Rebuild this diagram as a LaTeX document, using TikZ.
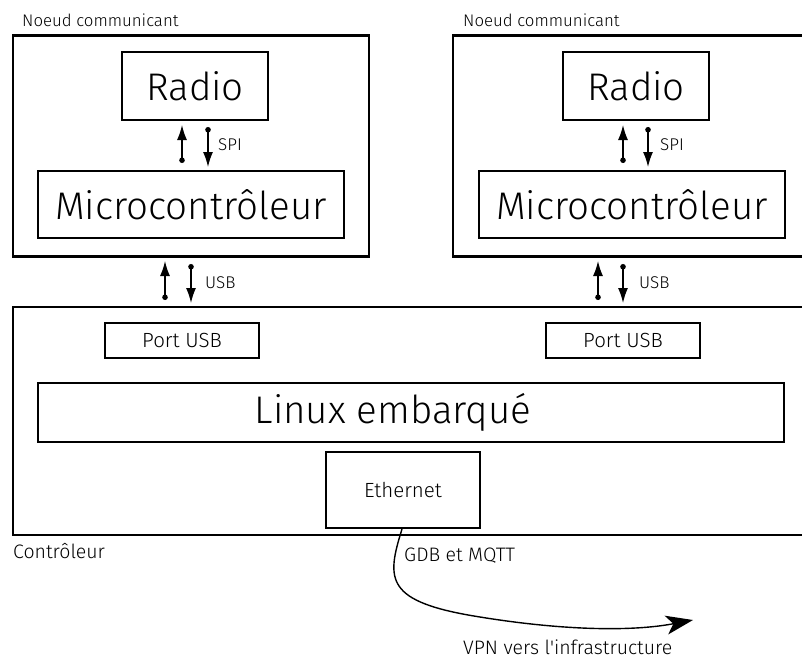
\documentclass[tikz,border=0pt]{standalone}
\usepackage{fontspec}
\setmainfont{Fira Sans Light}
\usetikzlibrary{arrows.meta}
\tikzset{
  box/.style={draw, line width=2.2pt, rectangle, inner sep=0pt, anchor=center},
  big/.style={font=\fontsize{38.5}{40}\selectfont},
  mid/.style={font=\fontsize{20.5}{22}\selectfont},
  lbl/.style={font=\fontsize{19.5}{21}\selectfont, inner sep=0pt},
  title/.style={font=\fontsize{16.8}{19}\selectfont, inner sep=0pt},
  small/.style={font=\fontsize{17}{19}\selectfont, inner sep=0pt, anchor=west},
  link/.style={line width=1.4pt, {Circle[length=5.5pt]}-{Latex[length=15pt,width=10pt]}},
}
\begin{document}
\begin{tikzpicture}[x=1pt,y=-1pt]
\useasboundingbox (0,0) rectangle (802,658);
\clip (0,0) rectangle (802,658);
% outer boxes
\node[box, minimum width=356pt, minimum height=221pt] (nodeL) at (191,146) {};
\node[box, minimum width=359pt, minimum height=221pt] (nodeR) at (632.5,146) {};
\node[box, minimum width=799pt, minimum height=228pt] (ctrl) at (412.5,421) {};
% inner boxes
\node[box, big, minimum width=146pt, minimum height=68pt] (radioL) at (195,86) {Radio};
\node[box, big, minimum width=146pt, minimum height=68pt] (radioR) at (636,86) {Radio};
\node[box, big, minimum width=306pt, minimum height=67pt] (microL) at (191,204.5) {Microcontrôleur};
\node[box, big, minimum width=306pt, minimum height=67pt] (microR) at (632,204.5) {Microcontrôleur};
\node[box, mid, minimum width=154pt, minimum height=35pt] (portL) at (182,340.5) {Port USB};
\node[box, mid, minimum width=154pt, minimum height=35pt] (portR) at (623,340.5) {Port USB};
\node[box, minimum width=746pt, minimum height=59pt] (linux) at (411,412.5) {};
\node[big, inner sep=0pt] (linuxtxt) at (393,412.5) {Linux embarqué};
\node[box, mid, minimum width=154pt, minimum height=76pt] (eth) at (403,490) {Ethernet};
% labels
\node[title, anchor=base west] (tnL) at (22,27) {Noeud communicant};
\node[title, anchor=base west] (tnR) at (463,27) {Noeud communicant};
\node[lbl, anchor=base west] (tctrl) at (13,558) {Contrôleur};
\node[lbl, anchor=base west] (tgdb) at (404,561) {GDB et MQTT};
\node[lbl, anchor=base west] (tvpn) at (463,654) {VPN vers l\textquotesingle infrastructure};
\node[small] (spiL) at (218,145) {SPI};
\node[small] (spiR) at (660,145) {SPI};
\node[small] (usbL) at (205,283) {USB};
\node[small] (usbR) at (639,283) {USB};
% SPI arrows
\coordinate (sLa) at (182,163); \coordinate (sLb) at (182,125);
\coordinate (sLc) at (208,127); \coordinate (sLd) at (208,167);
\coordinate (sRa) at (623,163); \coordinate (sRb) at (623,125);
\coordinate (sRc) at (648,127); \coordinate (sRd) at (648,167);
\draw[link] (sLa) -- (sLb);
\draw[link] (sLc) -- (sLd);
\draw[link] (sRa) -- (sRb);
\draw[link] (sRc) -- (sRd);
% USB arrows
\coordinate (uLa) at (165,300); \coordinate (uLb) at (165,261);
\coordinate (uLc) at (191,264); \coordinate (uLd) at (191,303);
\coordinate (uRa) at (598,300); \coordinate (uRb) at (598,261);
\coordinate (uRc) at (623,264); \coordinate (uRd) at (623,303);
\draw[link] (uLa) -- (uLb);
\draw[link] (uLc) -- (uLd);
\draw[link] (uRa) -- (uRb);
\draw[link] (uRc) -- (uRd);
% VPN curve
\coordinate (vpnend) at (693,620);
\draw[line width=1.4pt, -{Stealth[length=27pt,width=19pt,inset=7pt]}]
  (eth.south) ++(-1,0) .. controls (386,580) and (385,602) .. (480,617)
  .. controls (560,630) and (630,632) .. (vpnend);
\end{tikzpicture}
\end{document}
